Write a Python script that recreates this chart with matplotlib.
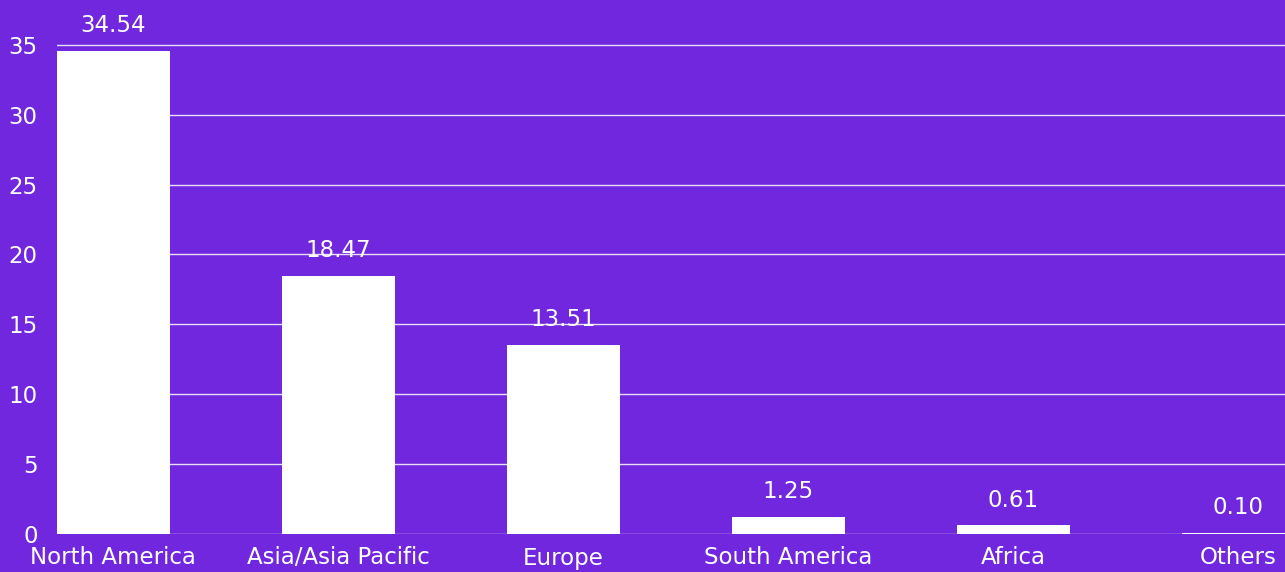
import matplotlib.pyplot as plt
import numpy as np

# Data
regions = ['North America', 'Asia/Asia Pacific', 'Europe', 'South America', 'Africa', 'Others']
values = [34.54, 18.47, 13.51, 1.25, 0.61, 0.10]
y_ticks = [0, 5, 10, 15, 20, 25, 30, 35]

BG = '#7127DD'
FG = 'white'

plt.rcParams.update({
    'font.family': ['DejaVu Sans'],
    'font.size': 16.5,
})

fig = plt.figure(figsize=(12.85, 5.72), dpi=100, facecolor=BG)
ax = fig.add_axes([57 / 1285, 38 / 572, 1 - 57 / 1285, 534 / 572])
ax.set_facecolor(BG)

x = np.arange(len(regions))
ax.bar(x, values, width=0.5, color=FG, zorder=3)

# value labels above each bar
for xi, v in zip(x, values):
    ax.annotate(f'{v:.2f}', xy=(xi, v), xytext=(0, 10), textcoords='offset points',
                ha='center', va='bottom', color=FG, fontsize=16.5, clip_on=False)

ax.set_xlim(-0.25, 5.207)
ax.set_ylim(0, 38.2)
ax.set_yticks(y_ticks)
ax.set_xticks(x)
ax.set_xticklabels(regions)

ax.grid(axis='y', color=FG, linewidth=1, alpha=0.85, zorder=1)
ax.grid(axis='x', visible=False)
for s in ax.spines.values():
    s.set_visible(False)

ax.tick_params(axis='both', length=0, colors=FG, labelsize=16.5)
ax.tick_params(axis='y', pad=14)
ax.tick_params(axis='x', pad=9)

plt.savefig('out.png', dpi=100, facecolor=BG)
